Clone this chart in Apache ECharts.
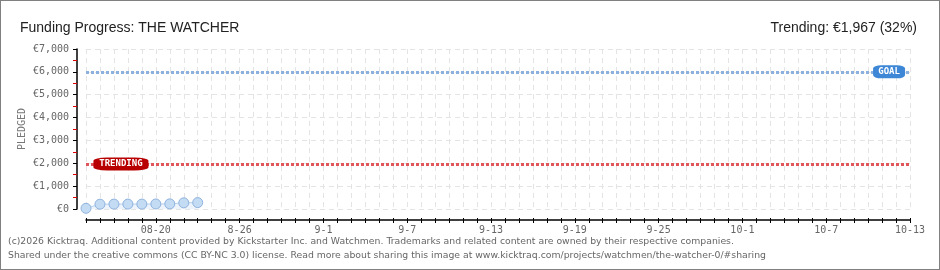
<!DOCTYPE html>
<html style="height: 100%">
<head>
	<meta charset="utf-8">
	<script src="https://cdn.jsdelivr.net/npm/echarts@6/dist/echarts.min.js"></script>
</head>
<body style="height: 100%; margin: 0; background-color: #fff;">
<div id="container" style="width: 940px; height: 270px; box-sizing: border-box; border: 1px solid #808080;"></div>
<script type="text/javascript">
	// one category per day, 08-15 .. 10-13
	var days = [
		'8-15', '8-16', '8-17', '8-18', '8-19', '08-20', '8-21', '8-22', '8-23', '8-24',
		'8-25', '8-26', '8-27', '8-28', '8-29', '8-30', '8-31', '9-1', '9-2', '9-3',
		'9-4', '9-5', '9-6', '9-7', '9-8', '9-9', '9-10', '9-11', '9-12', '9-13',
		'9-14', '9-15', '9-16', '9-17', '9-18', '9-19', '9-20', '9-21', '9-22', '9-23',
		'9-24', '9-25', '9-26', '9-27', '9-28', '9-29', '9-30', '10-1', '10-2', '10-3',
		'10-4', '10-5', '10-6', '10-7', '10-8', '10-9', '10-10', '10-11', '10-12', '10-13'
	];
	var pledged = [30, 210, 215, 215, 215, 220, 225, 270, 280];
	var goal = 6000;
	var trending = 1967;

	var dom = document.getElementById("container");
	var myChart = echarts.init(dom);
	var gridColor = '#e4e4e4';
	var pixelFont = 'DejaVu Sans Mono';
	var titleFont = { fontFamily: 'Liberation Sans', fontSize: 14, fontWeight: 'normal', color: '#222' };

	var option = {
		animation: false,
		title: [{
			text: 'Funding Progress: THE WATCHER',
			left: 14,
			top: 15,
			textStyle: titleFont
		}, {
			text: 'Trending: €1,967 (32%)',
			right: 17,
			top: 15,
			textStyle: titleFont
		}],
		grid: { left: 85, right: 29, top: 48, bottom: 60 },
		xAxis: [{
			type: 'category',
			position: 'bottom',
			data: days,
			boundaryGap: false,
			offset: 11,
			axisLine: { onZero: false, lineStyle: { color: '#000', width: 1.5 } },
			axisTick: { interval: 0, length: 3, lineStyle: { color: '#000' } },
			axisLabel: {
				interval: function (idx) { return idx % 6 === 5; },
				color: '#666', fontSize: 10, fontFamily: pixelFont, margin: 5
			},
			splitLine: { show: true, interval: 0, lineStyle: { color: gridColor, type: [5, 4] } }
		}, {
			type: 'category',
			position: 'bottom',
			data: days,
			boundaryGap: false,
			offset: 11,
			axisLine: { show: false, onZero: false },
			axisTick: { interval: 0, inside: true, length: 2, lineStyle: { color: '#000' } },
			axisLabel: { show: false },
			splitLine: { show: false }
		}],
		yAxis: {
			type: 'value',
			min: 0,
			max: 7000,
			interval: 1000,
			offset: 9,
			name: 'PLEDGED',
			nameLocation: 'middle',
			nameGap: 50,
			nameMoveOverlap: false,
			nameTextStyle: { color: '#777', fontSize: 10, fontFamily: pixelFont },
			axisLine: { show: true, lineStyle: { color: '#000', width: 1.5 } },
			axisTick: { show: true, length: 4, lineStyle: { color: '#000' } },
			minorTick: { show: true, splitNumber: 2, length: 4, lineStyle: { color: '#d00' } },
			axisLabel: {
				color: '#666', fontSize: 10, fontFamily: pixelFont, margin: 8,
				formatter: function (v) { return '€' + v.toLocaleString('en-US'); }
			},
			splitLine: { lineStyle: { color: gridColor, type: [5, 4] } }
		},
		series: [{
			type: 'line',
			data: pledged,
			symbol: 'circle',
			symbolSize: 10,
			showSymbol: true,
			showAllSymbol: true,
			itemStyle: { color: '#c4dbf4', borderColor: '#8fb2dd', borderWidth: 1 },
			lineStyle: { color: '#b6d0ef', width: 1 },
			areaStyle: { color: '#edf4fc', opacity: 1 },
			z: 5,
			markLine: {
				silent: true,
				symbol: 'none',
				label: { show: false },
				data: [
					{ yAxis: goal, lineStyle: { color: '#8db1de', width: 3, type: [3, 2] } },
					{ yAxis: trending, lineStyle: { color: '#e0565b', width: 3, type: [3, 2] } }
				]
			},
			markPoint: {
				silent: true,
				data: [{
					coord: [57, goal],
					symbol: 'roundRect',
					symbolSize: [32, 13],
					symbolOffset: [7, 0],
					itemStyle: { color: '#3d87d6' },
					label: { show: true, formatter: 'GOAL', color: '#fff', fontSize: 9, fontFamily: pixelFont, fontWeight: 'bold' }
				}, {
					coord: [2, trending],
					symbol: 'roundRect',
					symbolSize: [55, 13],
					symbolOffset: [7, 0],
					itemStyle: { color: '#b80000' },
					label: { show: true, formatter: 'TRENDING', color: '#fff', fontSize: 9, fontFamily: pixelFont, fontWeight: 'bold' }
				}]
			}
		}],
		graphic: [{
			type: 'text',
			left: 7,
			top: 236,
			style: {
				text: '(c)2026 Kicktraq. Additional content provided by Kickstarter Inc. and Watchmen. Trademarks and related content are owned by their respective companies.',
				fill: '#666', fontSize: 9.3, fontFamily: 'DejaVu Sans'
			}
		}, {
			type: 'text',
			left: 7,
			top: 250,
			style: {
				text: 'Shared under the creative commons (CC BY-NC 3.0) license. Read more about sharing this image at www.kicktraq.com/projects/watchmen/the-watcher-0/#sharing',
				fill: '#666', fontSize: 9.3, fontFamily: 'DejaVu Sans'
			}
		}]
	};
	myChart.setOption(option);
</script>
</body>
</html>
